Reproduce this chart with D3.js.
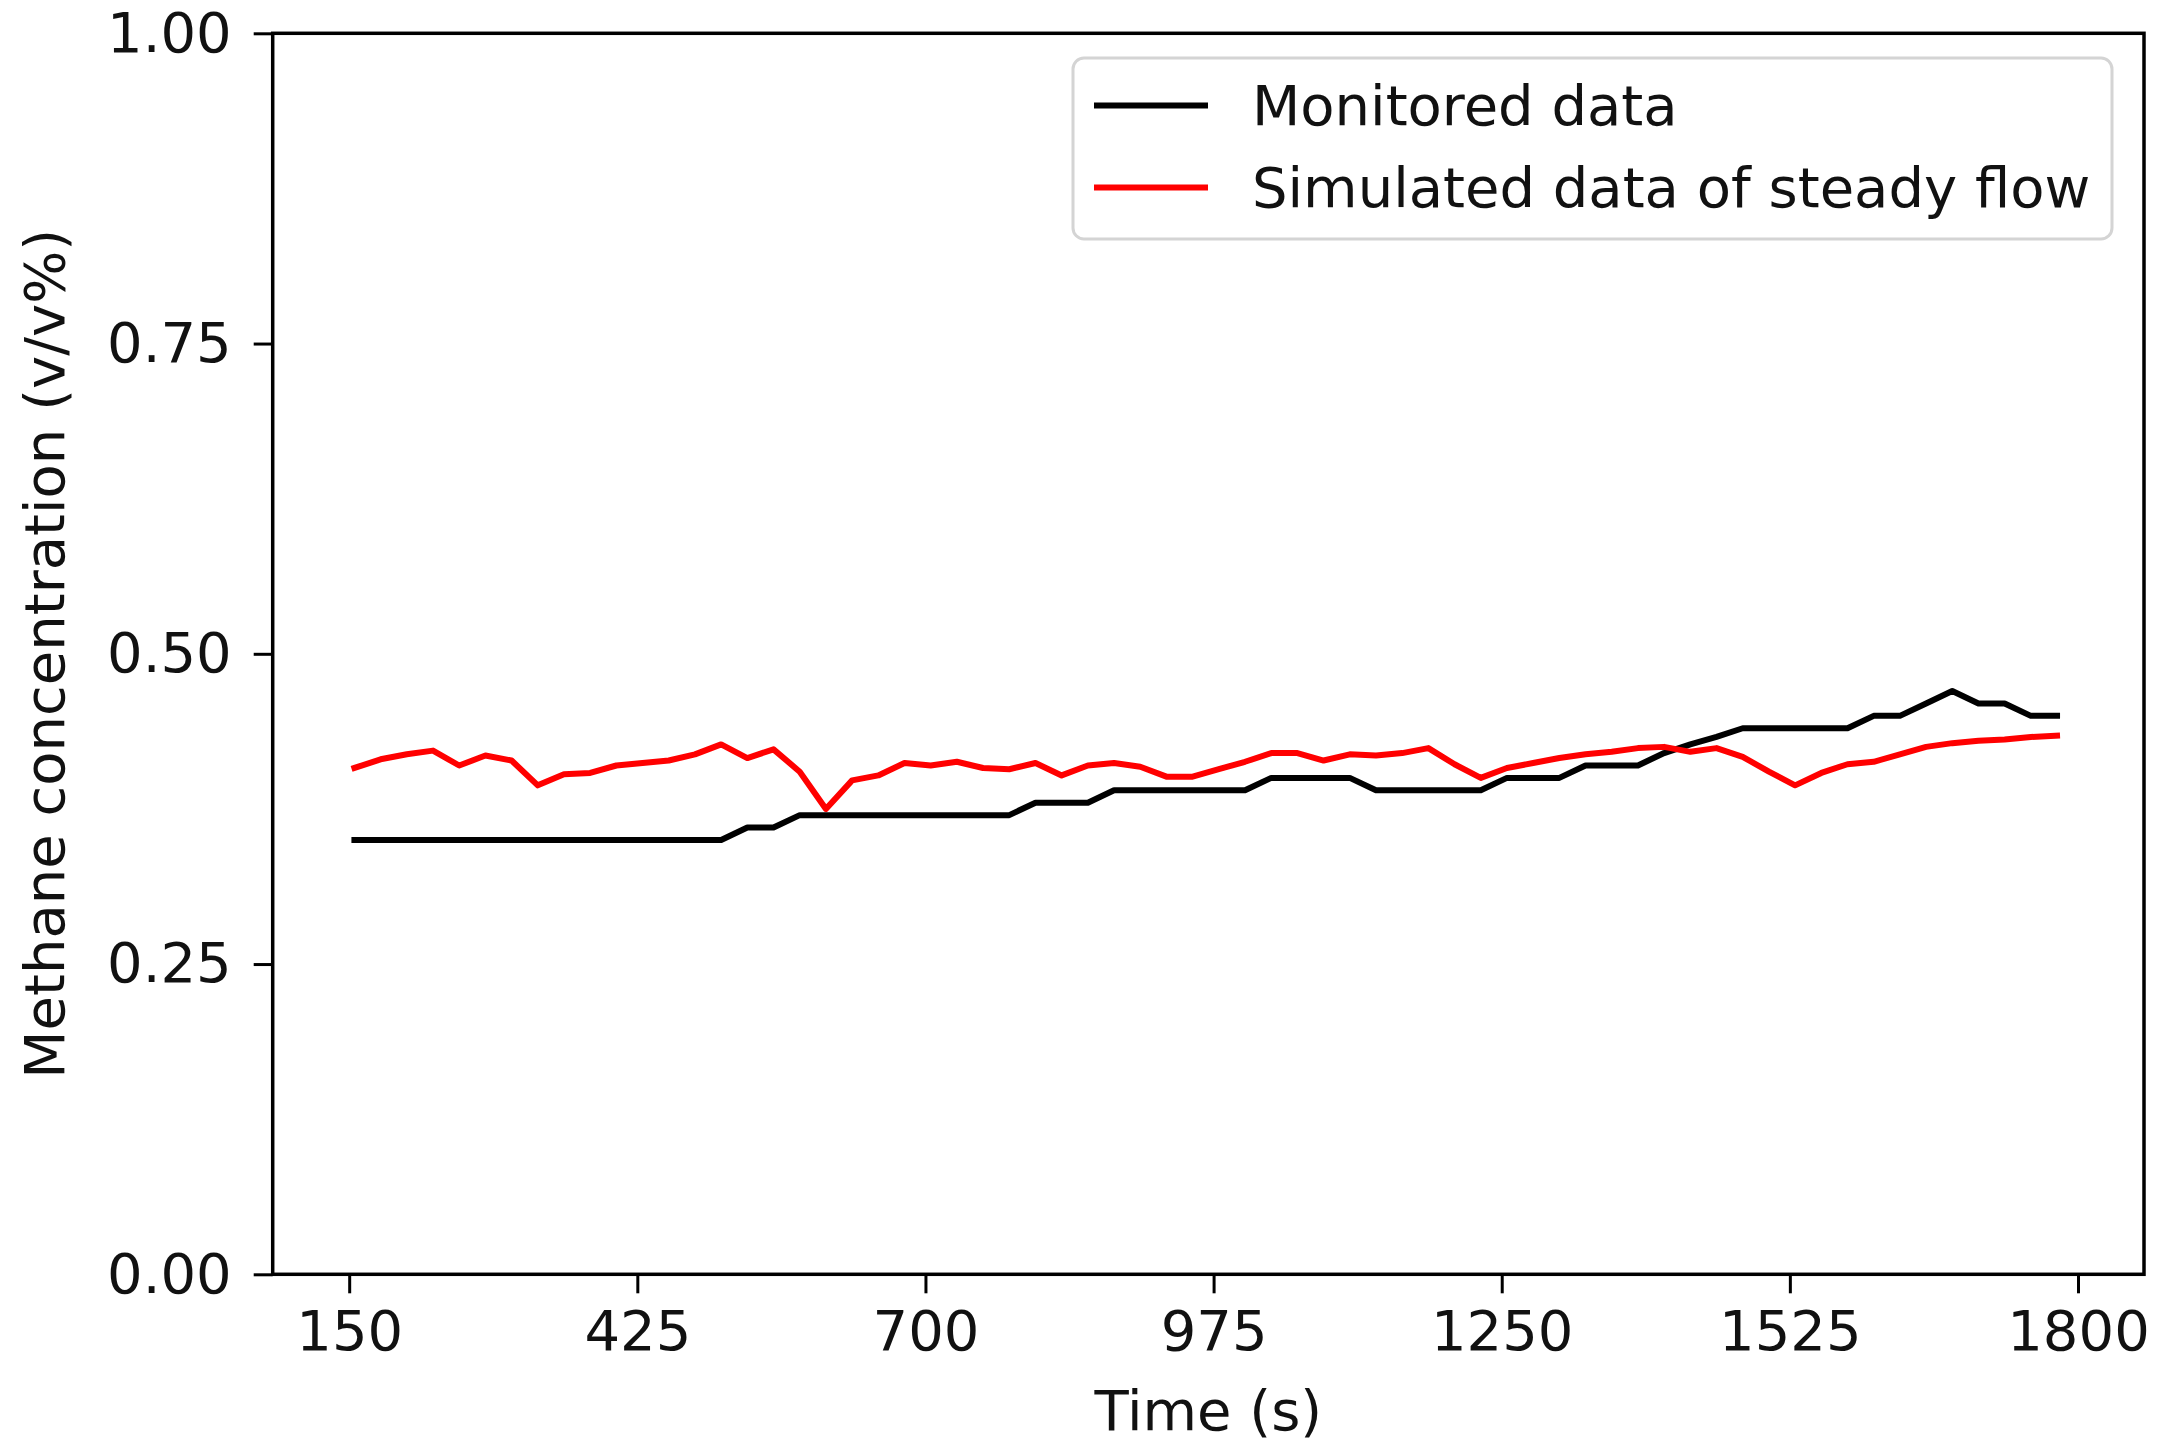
<!DOCTYPE html>
<html><head><meta charset="utf-8">
<script src="https://cdn.jsdelivr.net/npm/d3@7"></script>
<style>body{margin:0;background:#fff;} svg text{font-family:"DejaVu Sans",sans-serif;}</style>
</head><body><svg id="chart" width="2177" height="1456"></svg>
<script>
const time = [155,180,205,230,255,280,305,330,355,380,405,430,455,480,505,530,555,580,605,630,655,680,705,730,755,780,805,830,855,880,905,930,955,980,1005,1030,1055,1080,1105,1130,1155,1180,1205,1230,1255,1280,1305,1330,1355,1380,1405,1430,1455,1480,1505,1530,1555,1580,1605,1630,1655,1680,1705,1730,1755,1780];
const monitored = [0.35,0.35,0.35,0.35,0.35,0.35,0.35,0.35,0.35,0.35,0.35,0.35,0.35,0.35,0.35,0.36,0.36,0.37,0.37,0.37,0.37,0.37,0.37,0.37,0.37,0.37,0.38,0.38,0.38,0.39,0.39,0.39,0.39,0.39,0.39,0.40,0.40,0.40,0.40,0.39,0.39,0.39,0.39,0.39,0.40,0.40,0.40,0.41,0.41,0.41,0.42,0.427,0.433,0.44,0.44,0.44,0.44,0.44,0.45,0.45,0.46,0.47,0.46,0.46,0.45,0.45];
const simulated = [0.408,0.415,0.419,0.422,0.410,0.418,0.414,0.394,0.403,0.404,0.410,0.412,0.414,0.419,0.427,0.416,0.423,0.405,0.375,0.398,0.402,0.412,0.410,0.413,0.408,0.407,0.412,0.402,0.410,0.412,0.409,0.401,0.401,0.407,0.413,0.420,0.420,0.414,0.419,0.418,0.420,0.424,0.411,0.400,0.408,0.412,0.416,0.419,0.421,0.424,0.425,0.421,0.424,0.417,0.405,0.394,0.404,0.411,0.413,0.419,0.425,0.428,0.430,0.431,0.433,0.434];
const xTicks = [150,425,700,975,1250,1525,1800];
const yTicks = [0,0.25,0.5,0.75,1.0];
const seriesNames = ["Monitored data","Simulated data of steady flow"];
const seriesColors = ["#000000","#ff0000"];
const xLabel = "Time (s)";
const yLabel = "Methane concentration (v/v%)";

const svg = d3.select("#chart");
const L = 272.7, R = 2144, T = 33.3, B = 1274.3;
const FS = 56;
const x = d3.scaleLinear().domain([77, 1863]).range([L, R]);
const y = d3.scaleLinear().domain([0, 1]).range([B, T]);

// axes
const gx = svg.append("g").attr("transform", `translate(0,${B})`)
  .call(d3.axisBottom(x).tickValues(xTicks).tickSize(19).tickPadding(17).tickFormat(d3.format("d")));
const gy = svg.append("g").attr("transform", `translate(${L},0)`)
  .call(d3.axisLeft(y).tickValues(yTicks).tickSize(19).tickPadding(22).tickFormat(d3.format(".2f")));
[gx, gy].forEach(g => {
  g.select(".domain").remove();
  g.selectAll(".tick line").attr("stroke", "#000").attr("stroke-width", 3);
  g.selectAll(".tick text").attr("font-size", FS).attr("fill", "#111")
    .style("font-family", "'DejaVu Sans', sans-serif");
});

// data lines
const series = [monitored, simulated];
series.forEach((vals, i) => {
  const line = d3.line().x((d, j) => x(time[j])).y(d => y(d));
  svg.append("path").datum(vals)
    .attr("d", line)
    .attr("fill", "none")
    .attr("stroke", seriesColors[i])
    .attr("stroke-width", 6)
    .attr("stroke-linecap", "square")
    .attr("stroke-linejoin", "round");
});

// frame
svg.append("rect").attr("x", L).attr("y", T).attr("width", R - L).attr("height", B - T)
  .attr("fill", "none").attr("stroke", "#000").attr("stroke-width", 3.5);

// axis labels
svg.append("text").attr("x", (L + R) / 2).attr("y", 1430).attr("text-anchor", "middle")
  .attr("font-size", FS).attr("fill", "#111").text(xLabel);
svg.append("text").attr("transform", `translate(64,${(T + B) / 2}) rotate(-90)`)
  .attr("text-anchor", "middle").attr("font-size", FS).attr("fill", "#111").text(yLabel);

// legend
const lg = svg.append("g");
lg.append("rect").attr("x", 1073).attr("y", 58).attr("width", 1039).attr("height", 181)
  .attr("rx", 11).attr("fill", "#fff").attr("fill-opacity", 0.8)
  .attr("stroke", "#d4d4d4").attr("stroke-width", 3);
seriesNames.forEach((name, i) => {
  const cy = 105.5 + i * 82;
  lg.append("line").attr("x1", 1094).attr("x2", 1208).attr("y1", cy).attr("y2", cy)
    .attr("stroke", seriesColors[i]).attr("stroke-width", 6);
  lg.append("text").attr("x", 1252).attr("y", cy + 19).attr("font-size", FS)
    .attr("fill", "#111").text(name);
});
</script></body></html>
